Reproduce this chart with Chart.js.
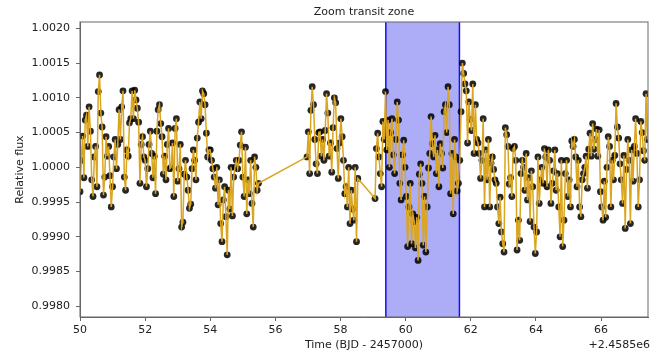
<!DOCTYPE html>
<html lang="en">
<head>
    <meta charset="UTF-8">
    <title>Zoom transit zone</title>
    <script src="https://cdn.jsdelivr.net/npm/chart.js"></script>
    <style>
        body {
            margin: 0;
            background-color: #ffffff;
        }
    </style>
</head>
<body>
    <canvas id="fluxChart" width="660" height="356"></canvas>
    <script>
        // time offset shown on the axis: +2.4585e6
        var cadence = 0.04;
        var startA = 50.00;
        var startB = 56.97;
        var startC = 59.06;

        // relative flux - 1, in ppm
        var fluxA = [
            -350, 100, 450, -150, 680, 750, 300, 870, 520, -180,
            -420, 150, 300, -280, 1090, 1330, 780, 580, -400, -140,
            440, 160, 300, -120, -570, -280, 150, 400, -20, 330,
            830, 400, 870, 1100, -140, -330, 250, 160, 640, 700,
            1100, 700, 1110, 970, 850, 650, -230, 330, 440, 150,
            100, -280, -20, 330, 520, 200, -150, 160, -380, 520,
            830, 900, 630, 440, -100, 160, -180, 330, 560, -20,
            0, 350, -420, 560, 700, -200, -20, 330, -860, -790,
            -100, 100, -140, -330, -590, -530, -20, 250, 100, -180,
            420, 650, 940, 700, 1100, 1060, 900, 490, 150, 250,
            250, 100, -20, -140, -300, 0, -540, -180, -810, -1070,
            -470, -280, -710, -1260, -330, -600, 0, -700, -140, 0,
            100, -20, 100, 320, 510, -140, -420, 290, -670, -180,
            -380, 100, -520, -860, 150, 0, -330, -230
        ];
        var fluxB = [
            150, 510, -90, 820, 1160, 900, 400, 50, -90, 500,
            510, 160, 400, 100, 530, 1060, 780, 160, 350, -70,
            570, 1000, 930, 270, -160, 350, 700, 440, 100, -380,
            -280, -570, 0, -810, -330, -600, -760, 0, -1070, -160
        ];
        var fluxC = [
            -450, 270, 490, 150, -90, -280, 660, 400, 1090, 250,
            680, 0, 500, 700, 180, -90, 400, 940, 680, -230,
            -470, 180, 390, 0, -420, -1140, -570, -230, -1100, -670,
            -780, -1160, -720, -1340, -100, 50, -230, -1120, -420, -1220,
            -570, -10, 200, 730, 340, 150, 460, -90, 250, -280,
            340, 200, -10, 800, 900, 500, 1160, 900, -380, 200,
            -670, 400, 150, -340, -230, 100, 800, 1500, 1350, 1200,
            1100, 350, 940, 690, 530, 1200, 200, 900, 400, 350,
            200, -160, 100, 700, -570, 250, -180, 400, -570, 60,
            150, -30, -180, -230, -570, -810, -430, -930, -1100, -1220,
            570, 470, 300, -240, -150, -420, 270, 300, 100, -1190,
            -760, -1050, -90, 100, 0, -330, 200, -470, -150, -780,
            -50, -280, -860, -1240, -930, 150, -520, -180, 0, -230,
            270, 150, -280, 250, 100, -520, -230, -50, 250, -330,
            -90, -570, -1000, 100, -1140, -760, -90, 100, -420, -180,
            -570, 380, 300, 400, 150, -280, 100, -570, -710, -180,
            -90, 0, 160, -300, 260, 490, 160, 630, 260, 400,
            550, 160, 540, -350, -570, -760, -200, -720, 0, 440,
            300, -570, 100, -180, 170, 920, 580, 420, 50, -180,
            -520, 170, -880, -30, 400, 100, -810, 250, -200, 300,
            700, 200, -570, -180, 660, 500, 240, 100, 1060, 400
        ];

        var transitStart = 59.39;
        var transitEnd = 61.65;

        var xTicks = [50, 52, 54, 56, 58, 60, 62, 64, 66];
        var yTicks = [0.9980, 0.9985, 0.9990, 0.9995, 1.0000, 1.0005, 1.0010, 1.0015, 1.0020];

        // build point list
        var points = [];
        function addSegment(t0, flux) {
            flux.forEach(function (v, i) {
                points.push({ x: +(t0 + i * cadence).toFixed(3), y: 1 + v / 1e6 });
            });
        }
        addSegment(startA, fluxA);
        addSegment(startB, fluxB);
        addSegment(startC, fluxC);

        var font = "'DejaVu Sans', sans-serif";

        // transit band, frame and texts
        var decorPlugin = {
            id: 'decor',
            beforeDatasetsDraw: function (chart) {
                var ctx = chart.ctx;
                var area = chart.chartArea;
                var x = chart.scales.x;
                var x1 = x.getPixelForValue(transitStart);
                var x2 = x.getPixelForValue(transitEnd);
                ctx.save();
                ctx.fillStyle = 'rgba(90, 90, 240, 0.5)';
                ctx.fillRect(x1, area.top, x2 - x1, area.bottom - area.top);
                ctx.strokeStyle = '#1010ff';
                ctx.lineWidth = 1.5;
                ctx.beginPath();
                ctx.moveTo(x1, area.top);
                ctx.lineTo(x1, area.bottom);
                ctx.moveTo(x2, area.top);
                ctx.lineTo(x2, area.bottom);
                ctx.stroke();
                ctx.restore();
            },
            afterDraw: function (chart) {
                var ctx = chart.ctx;
                var area = chart.chartArea;
                ctx.save();
                ctx.strokeStyle = '#666';
                ctx.lineWidth = 1;
                ctx.strokeRect(area.left, area.top, area.right - area.left, area.bottom - area.top);

                ctx.fillStyle = '#222';
                ctx.textAlign = 'center';
                ctx.textBaseline = 'middle';
                ctx.font = '11px ' + font;
                ctx.fillText('Zoom transit zone', (area.left + area.right) / 2, 12);
                ctx.fillText('Time (BJD - 2457000)', (area.left + area.right) / 2, 345);
                ctx.textAlign = 'right';
                ctx.fillText('+2.4585e6', 650, 345);

                ctx.translate(20, (area.top + area.bottom) / 2);
                ctx.rotate(-Math.PI / 2);
                ctx.textAlign = 'center';
                ctx.fillText('Relative flux', 0, 0);
                ctx.restore();
            }
        };

        var ctx = document.getElementById('fluxChart').getContext('2d');
        new Chart(ctx, {
            type: 'scatter',
            data: {
                datasets: [{
                    data: points,
                    showLine: true,
                    pointRadius: 0,
                    borderColor: '#daa520',
                    borderWidth: 1.5,
                    order: 0
                }, {
                    data: points,
                    pointRadius: 3.4,
                    pointBackgroundColor: 'rgba(0, 0, 0, 0.85)',
                    pointBorderWidth: 0,
                    order: 1
                }]
            },
            options: {
                responsive: false,
                animation: false,
                devicePixelRatio: 1,
                layout: { padding: { left: 0, right: 12, top: 22, bottom: 0 } },
                plugins: {
                    legend: { display: false },
                    tooltip: { enabled: false }
                },
                scales: {
                    x: {
                        type: 'linear',
                        min: 50,
                        max: 67.44,
                        afterFit: function (s) { s.height = 39; },
                        afterBuildTicks: function (s) {
                            s.ticks = xTicks.map(function (v) { return { value: v }; });
                        },
                        ticks: {
                            font: { family: font, size: 11 },
                            color: '#222',
                            padding: 3,
                            maxRotation: 0,
                            callback: function (v) { return String(v); }
                        },
                        grid: { drawOnChartArea: false, tickLength: 4, color: '#666' },
                        border: { color: '#666' }
                    },
                    y: {
                        type: 'linear',
                        min: 0.997846,
                        max: 1.002091,
                        afterFit: function (s) { s.width = 80; },
                        afterBuildTicks: function (s) {
                            s.ticks = yTicks.map(function (v) { return { value: v }; });
                        },
                        ticks: {
                            font: { family: font, size: 11 },
                            color: '#222',
                            padding: 6,
                            callback: function (v) { return v.toFixed(4); }
                        },
                        grid: { drawOnChartArea: false, tickLength: 4, color: '#666' },
                        border: { color: '#666' }
                    }
                }
            },
            plugins: [decorPlugin]
        });
    </script>
</body>
</html>
